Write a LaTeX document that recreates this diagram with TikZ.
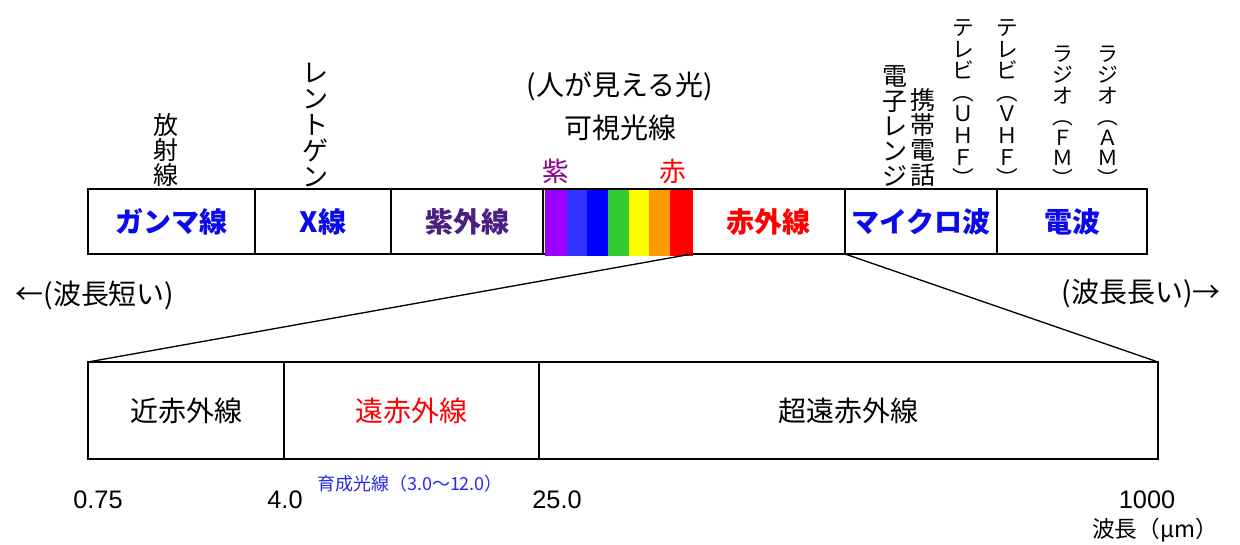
\documentclass[tikz,border=0pt]{standalone}
\usepackage{fontspec}
\setmainfont{Liberation Sans}
\newfontfamily\jp{Noto Sans CJK JP}
\definecolor{lblue}{RGB}{10,10,235}
\definecolor{uvcol}{RGB}{75,30,130}
\definecolor{vpurp}{RGB}{140,0,140}
\definecolor{lred}{RGB}{255,0,0}
\definecolor{cA}{RGB}{153,0,255}
\definecolor{cB}{RGB}{51,51,255}
\definecolor{cC}{RGB}{0,0,255}
\definecolor{cD}{RGB}{51,204,51}
\definecolor{cE}{RGB}{255,255,0}
\definecolor{cF}{RGB}{255,153,0}
\definecolor{cG}{RGB}{255,0,0}
\definecolor{ikucol}{RGB}{40,40,240}
\begin{document}
\begin{tikzpicture}[x=0.75pt,y=-0.75pt,
  bar/.style={draw,line width=1.7pt,inner sep=0,outer sep=0,minimum height=48.75pt},
  low/.style={draw,line width=1.4pt,inner sep=0,outer sep=0,minimum height=72.75pt},
  blab/.style={font=\jp\bfseries\fontsize{21}{24}\selectfont},
  nlab/.style={font=\jp\fontsize{21}{24}\selectfont},
  vl/.style={align=center,inner sep=0,anchor=south},
  num/.style={font=\fontsize{19}{21}\selectfont,inner sep=0},
  conn/.style={line width=1pt}
]
\useasboundingbox (0,0) rectangle (1240,545);
% top bar
\node[bar,blab,text=lblue,minimum width=125.25pt] (gamma) at (171.5,221.5) {ガンマ線};
\node[bar,blab,text=lblue,minimum width=102pt] (xray) at (323,221.5) {X線};
\node[bar,blab,text=uvcol,minimum width=114pt] (uv) at (467,221.5) {紫外線};
\node[bar,minimum width=111.75pt] (vis) at (617.5,221.5) {};
\node[bar,blab,text=lred,minimum width=114.75pt] (ir) at (768.5,221.5) {赤外線};
\node[bar,blab,text=lblue,minimum width=114pt] (micro) at (921,221.5) {マイクロ波};
\node[bar,blab,text=lblue,minimum width=112.5pt] (radio) at (1072,221.5) {電波};
% spectrum
\fill[cA] (545,190.5) rectangle (566.5,256);
\fill[cB] (566.5,190.5) rectangle (587,256);
\fill[cC] (587,190.5) rectangle (608,256);
\fill[cD] (608,190.5) rectangle (628.5,256);
\fill[cE] (628.5,190.5) rectangle (649,256);
\fill[cF] (649,190.5) rectangle (670,256);
\fill[cG] (670,190.5) rectangle (693,256);
% lower box
\node[low,nlab,minimum width=147pt] (near) at (186,410.5) {近赤外線};
\node[low,nlab,text=lred,minimum width=191.25pt] (far) at (411.5,410.5) {遠赤外線};
\node[low,nlab,minimum width=464.25pt] (ultra) at (848.5,410.5) {超遠赤外線};
% connectors
\draw[conn] (vis.south east) -- (near.north west);
\draw[conn] (ir.south east) -- (ultra.north east);
% upper labels
\node[vl,font=\jp\fontsize{18.75}{18.75}\selectfont] (hosha) at (166,187) {放\\射\\線};
\node[vl,font=\jp\fontsize{19.5}{19.5}\selectfont] (rent) at (315,187) {レ\\ン\\ト\\ゲ\\ン};
\node[nlab] (hito) at (620,86) {(人が見える光)};
\node[nlab] (kashi) at (620,128) {可視光線};
\node[font=\jp\fontsize{20}{22}\selectfont,text=vpurp,inner sep=0] (murasaki) at (556,171) {紫};
\node[font=\jp\fontsize{20}{22}\selectfont,text=lred,inner sep=0] (aka) at (673,171) {赤};
\node[vl,font=\jp\fontsize{18.75}{18.75}\selectfont] (denshi) at (895,187) {電\\子\\レ\\ン\\ジ};
\node[vl,font=\jp\fontsize{18.75}{18.75}\selectfont] (keitai) at (923,187) {携\\帯\\電\\話};
\node[vl,font=\jp\fontsize{16.2}{16.2}\selectfont] (uhf) at (963,187) {テ\\レ\\ビ\\︵\\Ｕ\\Ｈ\\Ｆ\\︶};
\node[vl,font=\jp\fontsize{16.2}{16.2}\selectfont] (vhf) at (1007,187) {テ\\レ\\ビ\\︵\\Ｖ\\Ｈ\\Ｆ\\︶};
\node[vl,font=\jp\fontsize{15.6}{15.6}\selectfont] (fm) at (1063,187) {ラ\\ジ\\オ\\︵\\Ｆ\\Ｍ\\︶};
\node[vl,font=\jp\fontsize{15.6}{15.6}\selectfont] (am) at (1108,187) {ラ\\ジ\\オ\\︵\\Ａ\\Ｍ\\︶};
% side labels
\node[nlab,inner sep=0] (short) at (95,295) {←(波長短い)};
\node[nlab,inner sep=0] (long) at (1141,293) {(波長長い)→};
% scale
\node[num] (n1) at (98,500) {0.75};
\node[num] (n2) at (285,500) {4.0};
\node[num] (n3) at (557,500) {25.0};
\node[num] (n4) at (1147,500) {1000};
\node[font=\jp\fontsize{13.5}{15}\selectfont,text=ikucol,inner sep=0] (iku) at (410,484) {育成光線（3.0〜12.0）};
\node[font=\jp\fontsize{17}{19}\selectfont,inner sep=0] (unit) at (1155,530) {波長（μm）};
\end{tikzpicture}
\end{document}
